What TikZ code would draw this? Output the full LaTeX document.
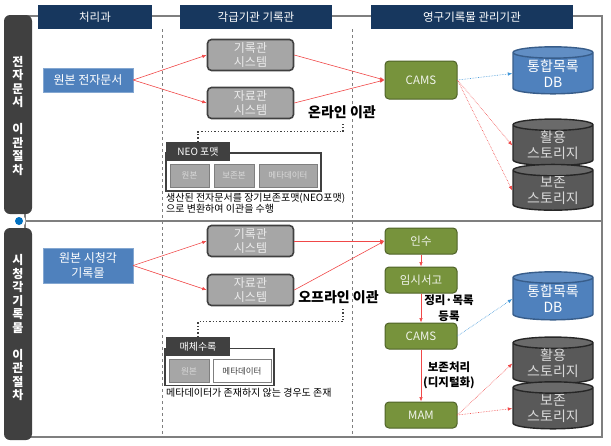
\documentclass[tikz,border=0pt]{standalone}
\usepackage{fontspec}
\setmainfont{Noto Sans CJK KR}
\usetikzlibrary{arrows.meta, shapes.geometric}

\definecolor{navy}{HTML}{17375E}
\definecolor{bardark}{HTML}{404040}
\definecolor{framegray}{HTML}{7F7F7F}
\definecolor{srcblue}{HTML}{4F81BD}
\definecolor{dbedge}{HTML}{385D8A}
\definecolor{sysgray}{HTML}{A6A6A6}
\definecolor{olive}{HTML}{77933C}
\definecolor{oliveedge}{HTML}{4F6228}
\definecolor{store}{HTML}{595959}
\definecolor{arrowred}{HTML}{F04848}
\definecolor{dotblue}{HTML}{3F96D8}
\definecolor{dotpt}{HTML}{0070C0}

\begin{document}
\begin{tikzpicture}[%
        x = 1pt, y = -1pt,
        header/.style = {%
            fill = navy, text = white, minimum height = 24, inner sep = 0,
            font = \fontsize{11.5}{13}\selectfont
        },
        srcbox/.style = {%
            fill = srcblue, draw = srcblue!70!white, text = white,
            minimum width = 90, inner sep = 0, align = center,
            font = \fontsize{12}{14.5}\selectfont
        },
        sysbox/.style = {%
            fill = sysgray, draw = bardark, line width = 1.6pt,
            rounded corners = 4pt, text = white!92!black,
            minimum width = 86, minimum height = 31, inner sep = 0,
            align = center, font = \fontsize{12}{14}\selectfont
        },
        greenbox/.style = {%
            fill = olive, draw = oliveedge, line width = 1pt,
            rounded corners = 4pt, text = white!90!olive,
            minimum width = 72, inner sep = 0,
            font = \fontsize{11.5}{14}\selectfont
        },
        drum/.style = {%
            cylinder, shape border rotate = 90, aspect = 0.22,
            line width = 1.4pt, cylinder uses custom fill,
            minimum width = 80, inner sep = 0, align = center,
            font = \fontsize{14}{16}\selectfont
        },
        dbdrum/.style = {%
            drum, draw = dbedge, text = white,
            cylinder body fill = srcblue, cylinder end fill = srcblue!90!white
        },
        storedrum/.style = {%
            drum, draw = black!85, text = white!85!black,
            cylinder body fill = store, cylinder end fill = store!90!white
        },
        grouptab/.style = {%
            fill = bardark, text = white, inner sep = 0,
            minimum width = 64, minimum height = 19,
            font = \fontsize{10}{11}\selectfont
        },
        groupbox/.style = {%
            draw = bardark, fill = white, line width = 1.4pt, inner sep = 0
        },
        partbox/.style = {%
            fill = sysgray, draw = framegray, text = white!85!black,
            minimum height = 23, inner sep = 0,
            font = \fontsize{8.5}{10}\selectfont
        },
        note/.style = {%
            anchor = north west, align = left, inner sep = 0,
            font = \fontsize{10}{11}\selectfont
        },
        transfer/.style = {%
            font = \bfseries\fontsize{14}{15}\selectfont, inner sep = 0
        },
        steplabel/.style = {%
            font = \bfseries\fontsize{11.5}{15.5}\selectfont, align = center,
            inner sep = 0
        },
        redline/.style = {%
            draw = arrowred, line width = 0.6pt,
            -{Latex[length = 4.5pt, width = 3.5pt]}
        },
        reddots/.style = {redline, densely dotted},
        bluedots/.style = {redline, draw = dotblue, densely dotted},
        callout/.style = {draw = bardark, line width = 1.3pt, dotted}
    ]

        \useasboundingbox (0,0) rectangle (611,445);

        % The frame around both parts.
        \draw[framegray, line width = 1.5pt] (25,16) rectangle (602,437);
        \draw[framegray, line width = 1.5pt] (19,221) -- (602,221);

        % The columns.
        \foreach\x in {162, 352}{%
            \draw[framegray, dashed] (\x,29) -- (\x,437);
        }

        % The dark bars on the left.
        \fill[bardark, rounded corners = 6pt] (4,15) rectangle (32,214);
        \fill[bardark, rounded corners = 6pt] (4,228) rectangle (32,440);
        \fill[white] (19,221) circle (6.5);
        \fill[dotpt] (19,221) circle (4);
        \node (barE) at (18,116) [text = white, align = center, inner sep = 0,
            font = \bfseries\fontsize{12}{13.5}\selectfont]
            {전\\자\\문\\서\\[13.5pt]이\\관\\절\\차};
        \node (barA) at (18,327.5) [text = white, align = center, inner sep = 0,
            font = \bfseries\fontsize{12}{13.5}\selectfont]
            {시\\청\\각\\기\\록\\물\\[13.5pt]이\\관\\절\\차};

        % The column headers.
        \node (hdDept) at (95,17) [header, minimum width = 114] {처리과};
        \node (hdRec) at (256,17) [header, minimum width = 152] {각급기관 기록관};
        \node (hdArch) at (472,17) [header, minimum width = 202] {영구기록물 관리기관};

        % Electronic records.
        \node (srcE) at (88,80) [srcbox, minimum height = 24] {원본 전자문서};
        \node (recE) at (250.5,55) [sysbox] {기록관\\시스템};
        \node (datE) at (250.5,103) [sysbox] {자료관\\시스템};
        \node (camsE) at (421,80) [greenbox, minimum height = 38] {CAMS};
        \node (dbE) at (553,73.5) [dbdrum, minimum height = 47] {통합목록\\DB};
        \node (useE) at (553,145.5) [storedrum, minimum height = 45] {활용\\스토리지};
        \node (keepE) at (553,190.5) [storedrum, minimum height = 45] {보존\\스토리지};

        % The NEO format group.
        \node (neoBox) at (243.5,172) [groupbox, minimum width = 155, minimum height = 38] {};
        \node (neoTab) at (198,151.5) [grouptab] {NEO 포맷};
        \node (neoOrig) at (189.5,175.5) [partbox, minimum width = 39] {원본};
        \node (neoKeep) at (234,175.5) [partbox, minimum width = 40] {보존본};
        \node (neoMeta) at (288,175.5) [partbox, minimum width = 58] {메타데이터};
        \node (neoNote) at (166,193) [note]
            {생산된 전자문서를 장기보존포맷(NEO포맷)\\으로 변환하여 이관을 수행};

        % Audiovisual records.
        \node (srcA) at (88,265.5) [srcbox, minimum height = 35] {원본 시청각\\기록물};
        \node (recA) at (250.5,241) [sysbox] {기록관\\시스템};
        \node (datA) at (250.5,290) [sysbox] {자료관\\시스템};
        \node (inA) at (421,241) [greenbox, minimum height = 26] {인수};
        \node (tmpA) at (421,280) [greenbox, minimum height = 26] {임시서고};
        \node (camsA) at (421,336) [greenbox, minimum height = 26] {CAMS};
        \node (mamA) at (421,415) [greenbox, minimum height = 26] {MAM};
        \node (dbA) at (553,299) [dbdrum, minimum height = 48] {통합목록\\DB};
        \node (useA) at (553,363.5) [storedrum, minimum height = 43] {활용\\스토리지};
        \node (keepA) at (553,408.5) [storedrum, minimum height = 47] {보존\\스토리지};

        % The media group.
        \node (medBox) at (219.5,367) [groupbox, minimum width = 109, minimum height = 37] {};
        \node (medTab) at (198,346.5) [grouptab] {매체수록};
        \node (medOrig) at (189,371) [partbox, minimum width = 40] {원본};
        \node (medMeta) at (242,371) [partbox, minimum width = 58, fill = white,
            text = black!75] {메타데이터};
        \node (medNote) at (166,388) [note] {메타데이터가 존재하지 않는 경우도 존재};

        % Labels of the transfers and steps.
        \node (onLine) at (342,112) [transfer] {온라인 이관};
        \node (offLine) at (338.5,297) [transfer] {오프라인 이관};
        \node (stepReg) at (449,308) [steplabel] {정리·목록\\등록};
        \node (stepKeep) at (449,375.5) [steplabel] {보존처리\\(디지털화)};

        % Dotted call-outs from the groups.
        \coordinate (onTop) at (343,122);
        \coordinate (offTop) at (343,307);
        \draw[callout] (neoTab.north) -- ++(0,-10) -| (onTop);
        \draw[callout] (medTab.north) -- ++(0,-15) -| (offTop);

        % Arrows for the electronic records.
        \draw[redline] (srcE.east) -- (recE.west);
        \draw[redline] (srcE.east) -- (datE.west);
        \draw[redline] (recE.east) -- (camsE.west);
        \draw[redline] (datE.east) -- (camsE.west);
        \draw[bluedots] (camsE.east) -- (dbE.west);
        \draw[reddots] (camsE.east) -- (useE.west);
        \draw[reddots] (camsE.east) -- (keepE.west);

        % Arrows for the audiovisual records.
        \draw[redline] (srcA.east) -- (recA.west);
        \draw[redline] (srcA.east) -- (datA.west);
        \draw[redline] (recA.east) -- (inA.west);
        \draw[redline] (datA.east) -- (inA.west);
        \draw[redline] (inA.south) -- (tmpA.north);
        \draw[redline] (tmpA.south) -- (camsA.north);
        \draw[redline] (camsA.south) -- (mamA.north);
        \draw[bluedots] (camsA.east) -- (dbA.west);
        \draw[reddots] (mamA.east) -- (useA.west);
        \draw[reddots] (mamA.east) -- (keepA.west);
    \end{tikzpicture}
\end{document}
